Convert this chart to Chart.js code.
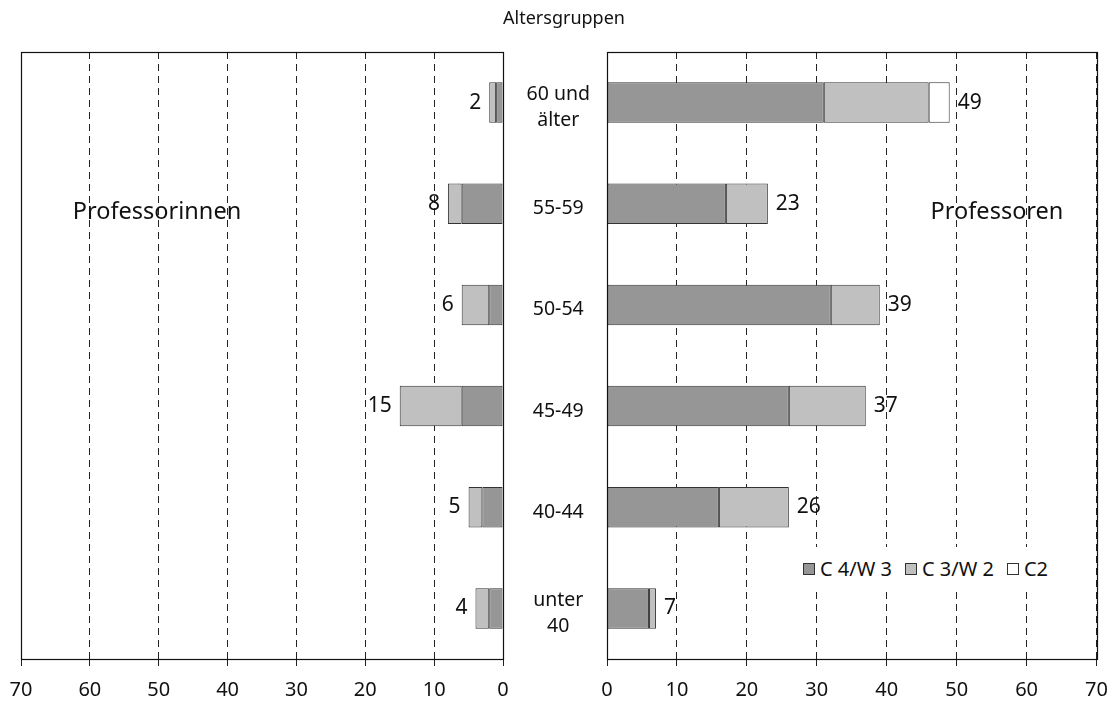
<!DOCTYPE html>
<html>
<head>
<meta charset="utf-8">
<script src="https://cdn.jsdelivr.net/npm/chart.js@4.4.1/dist/chart.umd.min.js"></script>
<style>
  html, body { margin: 0; padding: 0; background: #fff; }
  #wrap { position: relative; width: 1120px; height: 702px; font-family: "Noto Sans", sans-serif; color: #111; }
  canvas { position: absolute; top: 0; }
  .txt { position: absolute; white-space: nowrap; transform: translate(-50%, -50%); line-height: 1; }
  #legend { position: absolute; left: 797px; top: 547px; width: 270px; height: 44px; background: #fff; box-sizing: border-box;
            padding-left: 6px; display: flex; align-items: center; justify-content: flex-start; font-size: 20px; line-height: 1;
            white-space: nowrap; overflow: visible; }
  #legend .item { display: flex; align-items: center; margin-right: 13px; flex-shrink: 0; white-space: nowrap; }
  #legend .sw { width: 10px; height: 10px; border: 1px solid #333; margin-right: 5px; flex-shrink: 0; }
</style>
</head>
<body>
<div id="wrap">
  <canvas id="left" width="540" height="702" style="left:0;width:540px;height:702px"></canvas>
  <canvas id="right" width="617" height="702" style="left:503px;width:617px;height:702px"></canvas>
  <div class="txt" style="left:564px;top:17px;font-size:18px;">Altersgruppen</div>
  <div class="txt" style="left:157px;top:211px;font-size:23.5px;">Professorinnen</div>
  <div class="txt" style="left:997px;top:211px;font-size:23.5px;">Professoren</div>
  <div id="legend"></div>
</div>
<script>
// ---- data ----
const categories = [["60 und", "älter"], "55-59", "50-54", "45-49", "40-44", ["unter", "40"]];
const seriesNames = ["C 4/W 3", "C 3/W 2", "C2"];
const seriesColors = ["#969696", "#c0c0c0", "#ffffff"];

const womenC4 = [1, 6, 2, 6, 3, 2];
const womenC3 = [1, 2, 4, 9, 2, 2];

const menC4 = [31, 17, 32, 26, 16, 6];
const menC3 = [15, 6, 7, 11, 10, 1];
const menC2 = [3, 0, 0, 0, 0, 0];

const womenTotals = [2, 8, 6, 15, 5, 4];
const menTotals = [49, 23, 39, 37, 26, 7];

const xTicks = [0, 10, 20, 30, 40, 50, 60, 70];

// ---- helpers ----
const FONT = '"Noto Sans", sans-serif';
Chart.defaults.font.family = FONT;
Chart.defaults.color = '#111';

function frameAndTotals(totals, side) {
  return {
    id: 'frameTotals' + side,
    afterDatasetsDraw(chart) {
      const ctx = chart.ctx;
      const xs = chart.scales.x, ys = chart.scales.y;
      ctx.save();
      ctx.font = '21px ' + FONT;
      ctx.fillStyle = '#111';
      ctx.textBaseline = 'middle';
      totals.forEach((t, i) => {
        const px = xs.getPixelForValue(t);
        const py = ys.getPixelForValue(i);
        if (side === 'left') { ctx.textAlign = 'right'; ctx.fillText(String(t), px - 8, py); }
        else { ctx.textAlign = 'left'; ctx.fillText(String(t), px + 8, py); }
      });
      ctx.restore();
    },
    afterDraw(chart) {
      const ctx = chart.ctx, a = chart.chartArea;
      ctx.save();
      ctx.strokeStyle = '#111';
      ctx.lineWidth = 1.2;
      ctx.setLineDash([]);
      ctx.strokeRect(Math.round(a.left) + 0.5, Math.round(a.top) + 0.5,
                     Math.round(a.right - a.left), Math.round(a.bottom - a.top));
      ctx.restore();
    }
  };
}

function xScale(reverse) {
  return {
    type: 'linear', min: 0, max: 70, reverse: reverse, stacked: true,
    afterBuildTicks(s) { s.ticks = xTicks.map(v => ({ value: v })); },
    afterFit(s) { s.height = 43; },
    grid: {
      color: '#222', lineWidth: 1, drawTicks: true,
      tickLength: 7, tickColor: '#222', tickBorderDash: [], tickWidth: 1
    },
    border: { display: true, color: '#111', width: 1, dash: [7, 5] },
    ticks: { font: { size: 20 }, color: '#111', padding: 12, maxRotation: 0 }
  };
}

const barCommon = { barPercentage: 0.4, categoryPercentage: 1.0, borderColor: '#333', borderWidth: 1, borderSkipped: false };

// ---- left chart (Professorinnen) ----
new Chart(document.getElementById('left'), {
  type: 'bar',
  data: {
    labels: categories,
    datasets: [
      Object.assign({ label: seriesNames[0], data: womenC4, backgroundColor: seriesColors[0] }, barCommon),
      Object.assign({ label: seriesNames[1], data: womenC3, backgroundColor: seriesColors[1] }, barCommon)
    ]
  },
  options: {
    indexAxis: 'y', responsive: false, animation: false,
    layout: { padding: { left: 21, right: 37, top: 52, bottom: 0 } },
    plugins: { legend: { display: false }, tooltip: { enabled: false } },
    scales: {
      x: xScale(true),
      y: { stacked: true, display: false }
    }
  },
  plugins: [frameAndTotals(womenTotals, 'left')]
});

// ---- right chart (Professoren) ----
new Chart(document.getElementById('right'), {
  type: 'bar',
  data: {
    labels: categories,
    datasets: [
      Object.assign({ label: seriesNames[0], data: menC4, backgroundColor: seriesColors[0] }, barCommon),
      Object.assign({ label: seriesNames[1], data: menC3, backgroundColor: seriesColors[1] }, barCommon),
      Object.assign({ label: seriesNames[2], data: menC2, backgroundColor: seriesColors[2] }, barCommon)
    ]
  },
  options: {
    indexAxis: 'y', responsive: false, animation: false,
    layout: { padding: { left: 0, right: 16, top: 52, bottom: 0 } },
    plugins: { legend: { display: false }, tooltip: { enabled: false } },
    scales: {
      x: xScale(false),
      y: {
        stacked: true, position: 'left',
        afterFit(s) { s.width = 104; },
        grid: { display: false, drawTicks: false },
        border: { display: false },
        ticks: { font: { size: 19.5, lineHeight: 1.3 }, color: '#111', crossAlign: 'center', padding: 17, labelOffset: 5 }
      }
    }
  },
  plugins: [frameAndTotals(menTotals, 'right')]
});

// ---- legend (HTML, from series arrays) ----
const lg = document.getElementById('legend');
seriesNames.forEach((n, i) => {
  const it = document.createElement('div'); it.className = 'item';
  const sw = document.createElement('div'); sw.className = 'sw'; sw.style.background = seriesColors[i];
  const tx = document.createElement('span'); tx.textContent = n;
  it.appendChild(sw); it.appendChild(tx); lg.appendChild(it);
});
</script>
</body>
</html>
